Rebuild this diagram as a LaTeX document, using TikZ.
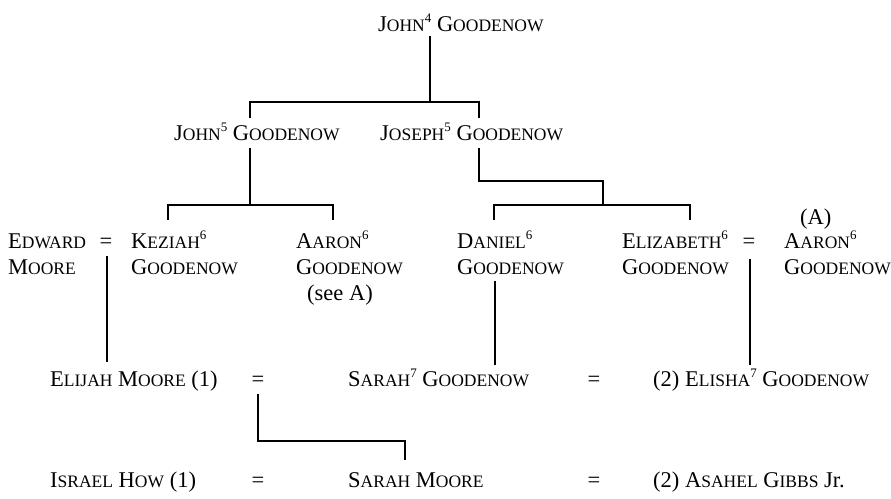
\documentclass[tikz,border=0pt]{standalone}
\usepackage{fontspec}
\setmainfont{Liberation Serif}
\usetikzlibrary{calc}
\newcommand\sm[1]{{\fontsize{17.5pt}{18pt}\selectfont #1}}
\newcommand\sups[1]{\raisebox{8.5pt}{\fontsize{13pt}{13pt}\selectfont #1}}
\begin{document}
\begin{tikzpicture}[x=1pt,y=-1pt,
  person/.style={inner sep=0pt, anchor=base west, font=\fontsize{22.5pt}{24pt}\selectfont},
  eqsign/.style={inner sep=0pt, anchor=base, font=\fontsize{22.5pt}{24pt}\selectfont},
  link/.style={line width=1.1pt, line cap=butt, line join=miter}]
\useasboundingbox (0,0) rectangle (891,498);

% generation 4 and 5
\node[person] (j4) at (378,31) {J\sm{OHN}\sups{4} G\sm{OODENOW}};
\node[person] (j5) at (174,140) {J\sm{OHN}\sups{5} G\sm{OODENOW}};
\node[person] (jo5) at (380,140) {J\sm{OSEPH}\sups{5} G\sm{OODENOW}};

% generation 6
\node[person] (ed1) at (8,248) {E\sm{DWARD}};
\node[person] (ed2) at (8,274) {M\sm{OORE}};
\node[eqsign] (eq1) at (106,248) {=};
\node[person] (kz1) at (131,248) {K\sm{EZIAH}\sups{6}};
\node[person] (kz2) at (131,274) {G\sm{OODENOW}};
\node[person] (aa1) at (296,248) {A\sm{ARON}\sups{6}};
\node[person] (aa2) at (296,274) {G\sm{OODENOW}};
\node[person] (aa3) at (307,300) {(see A)};
\node[person] (dn1) at (457,248) {D\sm{ANIEL}\sups{6}};
\node[person] (dn2) at (457,274) {G\sm{OODENOW}};
\node[person] (el1) at (622,248) {E\sm{LIZABETH}\sups{6}};
\node[person] (el2) at (622,274) {G\sm{OODENOW}};
\node[eqsign] (eq2) at (749,248) {=};
\node[person] (ab0) at (800,224) {(A)};
\node[person] (ab1) at (784,248) {A\sm{ARON}\sups{6}};
\node[person] (ab2) at (784,274) {G\sm{OODENOW}};

% generation 7
\node[person] (em) at (50,386) {E\sm{LIJAH} M\sm{OORE} (1)};
\node[eqsign] (eq3) at (258,386) {=};
\node[person] (s7) at (348,386) {S\sm{ARAH}\sups{7} G\sm{OODENOW}};
\node[eqsign] (eq4) at (594,386) {=};
\node[person] (es) at (653,386) {(2) E\sm{LISHA}\sups{7} G\sm{OODENOW}};

% generation 8
\node[person] (ih) at (50,487) {I\sm{SRAEL} H\sm{OW} (1)};
\node[eqsign] (eq5) at (258,487) {=};
\node[person] (smo) at (348,487) {S\sm{ARAH} M\sm{OORE}};
\node[eqsign] (eq6) at (594,487) {=};
\node[person] (ag) at (653,487) {(2) A\sm{SAHEL} G\sm{IBBS} Jr.};

% junctions
\coordinate (a0) at (430,102);
\coordinate (a1) at (250,102);
\coordinate (a2) at (479,102);
\coordinate (b0) at (250,205);
\coordinate (b1) at (168,205);
\coordinate (b2) at (333,205);
\coordinate (c0) at (479,181);
\coordinate (c1) at (603,181);
\coordinate (c2) at (603,205);
\coordinate (c3) at (494,205);
\coordinate (c4) at (690,205);
\coordinate (d0) at (258,441);
\coordinate (d1) at (405,441);

% connectors
\draw[link] ($(j4.south -| a0)+(0,5)$) -- (a0);
\draw[link] ($(j5.north -| a1)+(0,-5)$) -- (a1) -- (a2) -- ($(jo5.north -| a2)+(0,-5)$);
\draw[link] ($(j5.south -| b0)+(0,8)$) -- (b0);
\draw[link] ($(kz1.north -| b1)+(0,-11)$) -- (b1) -- (b2) -- ($(aa1.north -| b2)+(0,-11)$);
\draw[link] ($(jo5.south -| c0)+(0,8)$) -- (c0) -- (c1) -- (c2);
\draw[link] ($(dn1.north -| c3)+(0,-11)$) -- (c3) -- (c4) -- ($(el1.north -| c4)+(0,-11)$);
\draw[link] ($(eq1.south)+(1,8)$) -- ($(em.north -| eq1.south)+(1,-8)$);
\draw[link] ($(dn2.south -| c3)+(1,7)$) -- ($(s7.north -| c3)+(1,-4)$);
\draw[link] ($(eq2.south)+(1,11)$) -- ($(es.north -| eq2.south)+(1,-4)$);
\draw[link] ($(eq3.south)+(0,8)$) -- (d0) -- (d1) -- ($(smo.north -| d1)+(0,-12)$);
\end{tikzpicture}
\end{document}
